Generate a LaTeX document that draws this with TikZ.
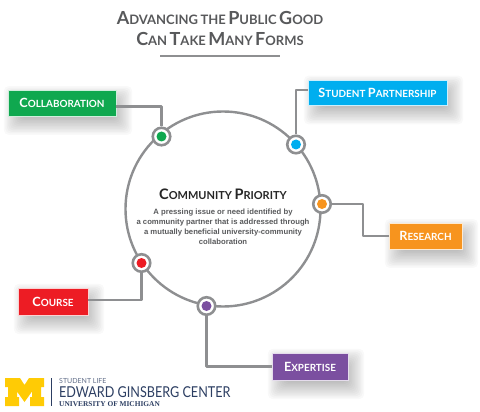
\documentclass[tikz,border=0pt]{standalone}
\usepackage{fontspec}
\setmainfont{Lato}
\newfontfamily\logofont{Liberation Serif}
\newfontfamily\bodyfont{Liberation Sans}
\usetikzlibrary{backgrounds}
\definecolor{linegray}{HTML}{8E8F91}
\definecolor{titlegray}{HTML}{58595B}
\definecolor{collabgreen}{HTML}{0FA84F}
\definecolor{studentblue}{HTML}{00AEEF}
\definecolor{researchorange}{HTML}{F7941E}
\definecolor{coursered}{HTML}{ED1C24}
\definecolor{expertisepurple}{HTML}{7B4FA0}
\definecolor{logoyellow}{HTML}{FFCB05}
\definecolor{logonavy}{HTML}{2C3E62}
% big first letter, small rest
\newcommand{\smc}[2]{{\fontsize{#1}{#1}\selectfont\MakeUppercase{#2}}}
\newcommand{\titleword}[2]{\smc{18}{#1}\smc{13}{#2}}
\newcommand{\boxword}[2]{\smc{12.7}{#1}\smc{9.9}{#2}}
% blurred shadow behind a box
\newcommand{\softshadow}[1]{
    \begin{scope}[on background layer]
        \foreach \g in {-5,-3.5,-2,-0.5,1,2.5,4,5.5,7,8.5,10,11.5,13}
            \fill[black,opacity=.022,rounded corners=5pt]
                ([xshift=9pt-\g pt,yshift=-6pt-\g pt]#1.south west) rectangle ([xshift=3pt+\g pt,yshift=-9pt+\g pt]#1.north east);
    \end{scope}
}
\tikzset{
  labelbox/.style={draw=white!80!#1,line width=.4pt,fill=#1,text=white,font=\bfseries,minimum height=25.5pt,inner sep=0pt},
  ringdot/.style={circle,draw=linegray,line width=2.6pt,fill=white,minimum size=17.5pt,inner sep=0pt},
  innerdot/.style={circle,fill=#1,minimum size=10pt,inner sep=0pt},
  wire/.style={draw=linegray,line width=2.3pt,line join=round},
}
\begin{document}
\begin{tikzpicture}[x=1pt,y=-1pt]
    \useasboundingbox (0,0) rectangle (480,412);

    % Title
    \node[text=titlegray,font=\bfseries] (titlea) at (220,18) {\titleword{A}{dvancing} \titleword{}{the} \titleword{P}{ublic} \titleword{G}{ood}};
    \node[text=titlegray,font=\bfseries] (titleb) at (220,39) {\titleword{C}{an} \titleword{T}{ake} \titleword{M}{any} \titleword{F}{orms}};
    \draw[linegray,line width=1.8pt] (160,56) -- (280,56);

    % Big circle
    \node[circle,draw=linegray,line width=2.4pt,minimum size=195pt,inner sep=0pt] (ring) at (223,209) {};
    \node[text=black!85,font=\bfseries] (prioritytitle) at (223,194) {\smc{14.5}{C}\smc{11}{ommunity} \smc{14.5}{P}\smc{11}{riority}};
    \node[text=titlegray,align=center,font=\bodyfont\bfseries\fontsize{7.7}{10}\selectfont] (prioritytext) at (223,227)
        {A pressing issue or need identified by\\a community partner that is addressed through\\a mutually beneficial university-community\\collaboration};

    % Labels
    \node[labelbox=collabgreen,minimum width=108pt] (collabbox) at (62,103) {\boxword{C}{ollaboration}};
    \node[labelbox=studentblue,minimum width=139pt] (studentbox) at (377.5,92.5) {\boxword{S}{tudent} \boxword{P}{artnership}};
    \node[labelbox=researchorange,minimum width=73pt] (researchbox) at (425.5,236) {\boxword{R}{esearch}};
    \node[labelbox=coursered,minimum width=70pt,minimum height=27pt] (coursebox) at (53,301.5) {\boxword{C}{ourse}};
    \node[labelbox=expertisepurple,minimum width=76pt,minimum height=27pt] (expertisebox) at (310,366.5) {\boxword{E}{xpertise}};
    \softshadow{collabbox}
    \softshadow{studentbox}
    \softshadow{researchbox}
    \softshadow{coursebox}
    \softshadow{expertisebox}

    % Connectors first, rings on top
    \node[ringdot] (collabring) at (161.5,136.5) {};
    \node[ringdot] (studentring) at (296,144.5) {};
    \node[ringdot] (researchring) at (322,204) {};
    \node[ringdot] (coursering) at (141.5,263) {};
    \node[ringdot] (expertisering) at (206.5,306) {};

    \draw[wire] ([yshift=-3.5pt]collabbox.east) -| (collabring.north);
    \draw[wire] ([yshift=2.5pt]studentbox.west) -| (studentring.north);
    \draw[wire] (researchbox.west) -| ([xshift=-26pt]researchbox.west) |- (researchring.east);
    \draw[wire] ([yshift=1.5pt]coursebox.east) -| (coursering.south);
    \draw[wire] (expertisebox.west) -| (expertisering.south);

    \node[innerdot=collabgreen] (collabdot) at (collabring) {};
    \node[innerdot=studentblue] (studentdot) at (studentring) {};
    \node[innerdot=researchorange] (researchdot) at (researchring) {};
    \node[innerdot=coursered] (coursedot) at (coursering) {};
    \node[innerdot=expertisepurple] (expertisedot) at (expertisering) {};

    % Logo
    \fill[logoyellow] (5,378) -- (20,378) -- (24.5,385) -- (29,378) -- (44,378) -- (44,387) -- (41,387) -- (41,397) -- (44,397) -- (44,406) -- (30,406) -- (30,397) -- (32,397) -- (32,391.5) -- (24.5,402) -- (17,391.5) -- (17,397) -- (19,397) -- (19,406) -- (5,406) -- (5,397) -- (8,397) -- (8,387) -- (5,387) -- cycle;
    \draw[logonavy,line width=.6pt] (51.5,378) -- (51.5,406);
    \node[anchor=west,text=logonavy!75,inner sep=0pt,font=\fontsize{7}{7}\selectfont] (logoa) at (59,381) {STUDENT LIFE};
    \node[anchor=west,text=logonavy,inner sep=0pt,font=\fontsize{15}{15}\selectfont] (logob) at (59,392) {\scalebox{.84}[1]{EDWARD GINSBERG CENTER}};
    \node[anchor=west,text=logonavy,inner sep=0pt,font=\logofont\bfseries\fontsize{7.4}{7.4}\selectfont] (logoc) at (59,404) {UNIVERSITY OF MICHIGAN};
\end{tikzpicture}
\end{document}
